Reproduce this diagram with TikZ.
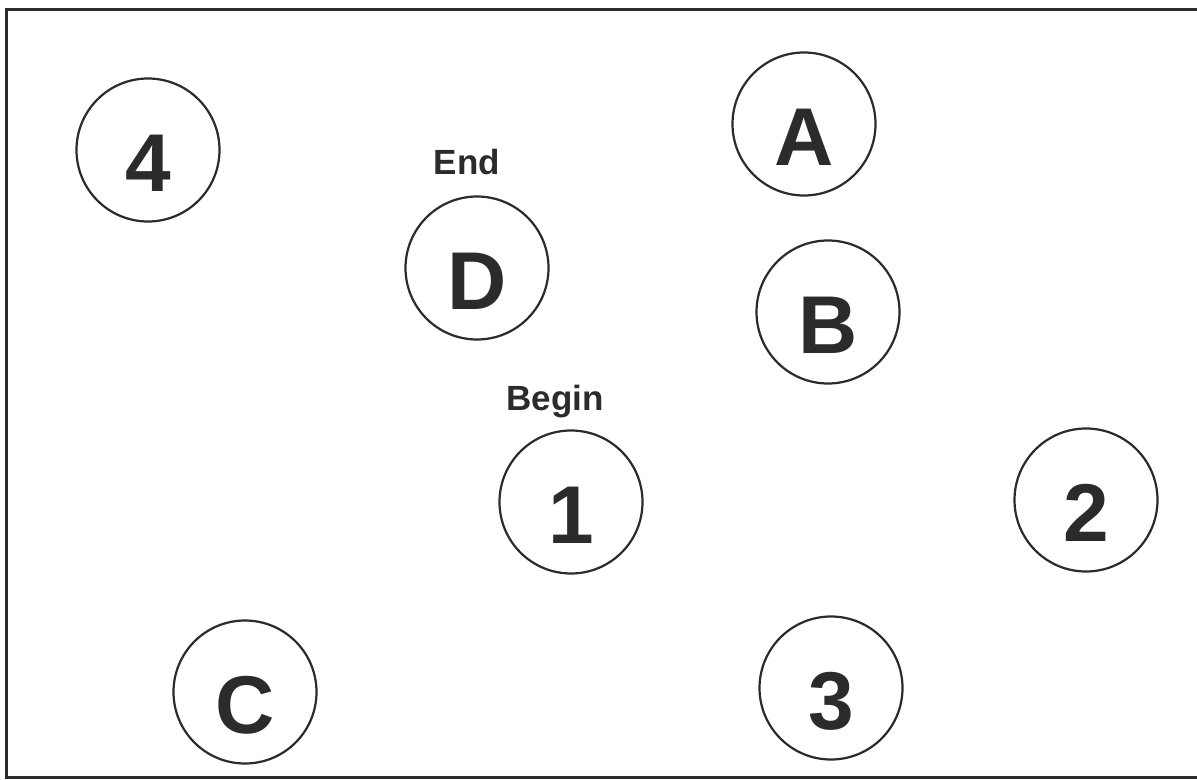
\documentclass[tikz,border=0pt]{standalone}
\usepackage{fontspec}
\setmainfont{Liberation Sans}
\usepackage{tikz}
\usepackage{xcolor}
\usetikzlibrary{positioning}
\definecolor{InkGray}{HTML}{2B2B2B}

\begin{document}
\begin{tikzpicture}[x=0.5pt, y=-0.5pt,
  target/.style={circle, draw=InkGray, line width=1.1pt, minimum size=71.5pt, inner sep=0pt,
    text=InkGray, font=\fontsize{41}{41}\selectfont\bfseries, text height=41.5pt, text depth=0pt},
  cue/.style={text=InkGray, font=\fontsize{17.5}{17.5}\selectfont\bfseries, anchor=base, inner sep=0pt}]
\useasboundingbox (0,0) rectangle (1197,780);
\clip (0,0) rectangle (1197,780);
% --- Sheet border ---
\draw[InkGray, line width=1.5pt] (6,10) rectangle (1210,777);
% --- Circles ---
\node[target] (n4) at (148,150) {4};
\node[target] (nA) at (804,124) {A};
\node[target] (nD) at (477,268) {D};
\node[target] (nB) at (828,312) {B};
\node[target] (n1) at (571,502) {1};
\node[target] (n2) at (1086,500) {2};
\node[target] (nC) at (245,692) {C};
\node[target] (n3) at (831,688) {3};
% --- Start and finish cues ---
\node[cue] (end) at (467,175) {End};
\node[cue] (begin) at (555,410) {Begin};
\end{tikzpicture}
\end{document}
